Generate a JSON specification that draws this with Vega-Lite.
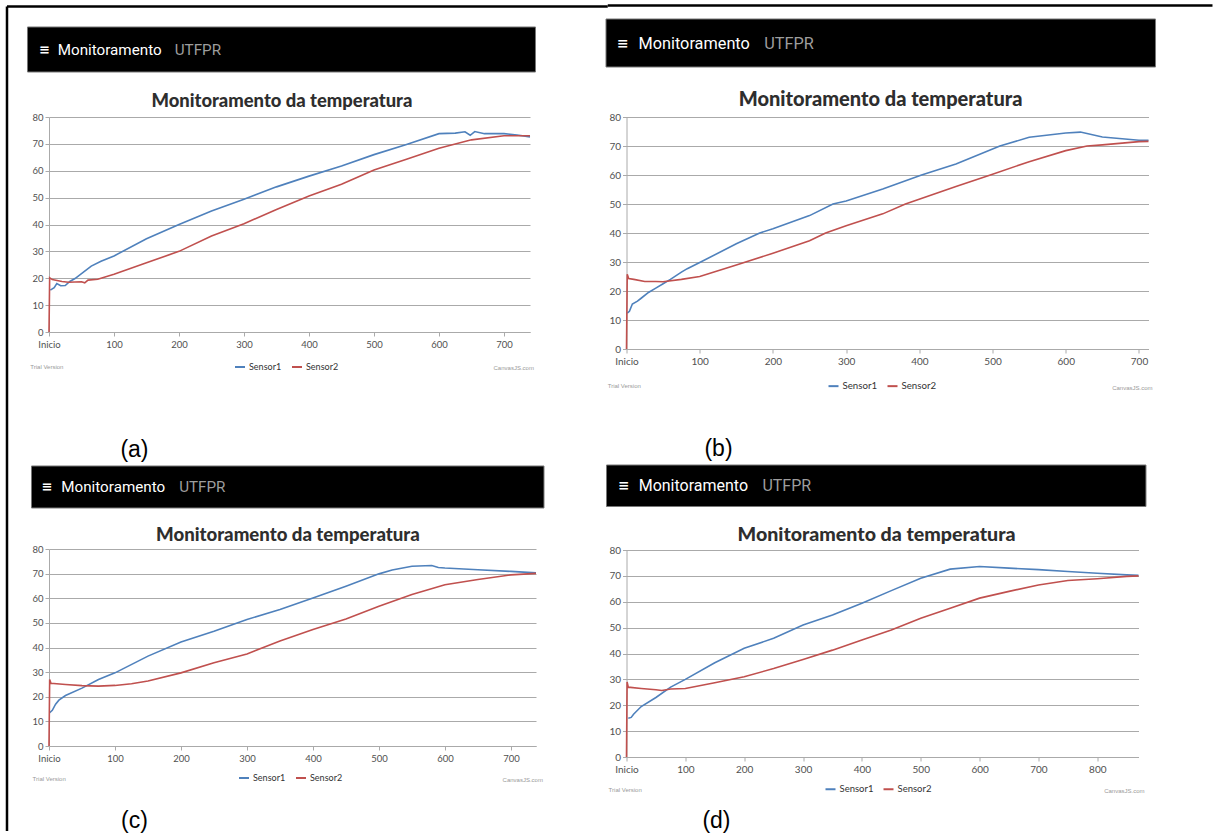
{
  "$schema": "https://vega.github.io/schema/vega-lite/v6.json",
  "autosize": {"type": "pad"},
  "padding": {"left": 5, "top": 4, "right": 0, "bottom": 0},
  "background": "white",
  "columns": 2,
  "spacing": {"row": -4, "column": -3.5},
  "bounds": "full",
  "align": "none",
  "resolve": {"scale": {"color": "independent"}, "legend": {"color": "independent"}},
  "config": {
    "view": {"stroke": null},
    "axis": {"labelFont": "Lato", "labelColor": "#505050", "domainColor": "#aaaaaa", "tickColor": "#aaaaaa", "gridColor": "#aaaaaa", "tickSize": 4, "labelOverlap": false},
    "legend": {"symbolType": "stroke", "symbolStrokeWidth": 2, "symbolSize": 100, "labelFont": "Lato", "labelFontSize": 9, "labelColor": "#333", "columnPadding": 6, "labelOffset": 3, "padding": 0}
  },
  "datasets": {
    "a": [
      {"t":2,"s":"Sensor1","v":15.6},{"t":8,"s":"Sensor1","v":16.5},{"t":12,"s":"Sensor1","v":18},{"t":18,"s":"Sensor1","v":17.2},{"t":25,"s":"Sensor1","v":17.3},{"t":32,"s":"Sensor1","v":18.8},{"t":40,"s":"Sensor1","v":19.9},{"t":50,"s":"Sensor1","v":21.7},{"t":65,"s":"Sensor1","v":24.5},{"t":80,"s":"Sensor1","v":26.3},{"t":100,"s":"Sensor1","v":28.3},{"t":150,"s":"Sensor1","v":34.7},{"t":200,"s":"Sensor1","v":40},{"t":250,"s":"Sensor1","v":45},{"t":300,"s":"Sensor1","v":49.4},{"t":350,"s":"Sensor1","v":54},{"t":400,"s":"Sensor1","v":58},{"t":450,"s":"Sensor1","v":61.8},{"t":500,"s":"Sensor1","v":66},{"t":550,"s":"Sensor1","v":69.8},{"t":600,"s":"Sensor1","v":73.8},{"t":625,"s":"Sensor1","v":74},{"t":640,"s":"Sensor1","v":74.5},{"t":648,"s":"Sensor1","v":73.2},{"t":655,"s":"Sensor1","v":74.6},{"t":670,"s":"Sensor1","v":73.8},{"t":700,"s":"Sensor1","v":73.8},{"t":720,"s":"Sensor1","v":73.3},{"t":740,"s":"Sensor1","v":72.6},
      {"t":0,"s":"Sensor2","v":0},{"t":1,"s":"Sensor2","v":20.2},{"t":5,"s":"Sensor2","v":19.5},{"t":20,"s":"Sensor2","v":18.8},{"t":30,"s":"Sensor2","v":18.5},{"t":50,"s":"Sensor2","v":18.7},{"t":55,"s":"Sensor2","v":18.3},{"t":60,"s":"Sensor2","v":19.3},{"t":75,"s":"Sensor2","v":19.6},{"t":100,"s":"Sensor2","v":21.5},{"t":150,"s":"Sensor2","v":25.8},{"t":200,"s":"Sensor2","v":30},{"t":250,"s":"Sensor2","v":35.7},{"t":300,"s":"Sensor2","v":40.3},{"t":350,"s":"Sensor2","v":45.6},{"t":400,"s":"Sensor2","v":50.6},{"t":450,"s":"Sensor2","v":55},{"t":500,"s":"Sensor2","v":60.3},{"t":550,"s":"Sensor2","v":64.3},{"t":600,"s":"Sensor2","v":68.4},{"t":650,"s":"Sensor2","v":71.5},{"t":700,"s":"Sensor2","v":73},{"t":740,"s":"Sensor2","v":73}
    ],
    "b": [
      {"t":1,"s":"Sensor1","v":12.4},{"t":4,"s":"Sensor1","v":13},{"t":8,"s":"Sensor1","v":15.5},{"t":15,"s":"Sensor1","v":16.5},{"t":20,"s":"Sensor1","v":17.5},{"t":30,"s":"Sensor1","v":19.5},{"t":40,"s":"Sensor1","v":21},{"t":50,"s":"Sensor1","v":22.5},{"t":60,"s":"Sensor1","v":24},{"t":75,"s":"Sensor1","v":26.5},{"t":83,"s":"Sensor1","v":27.7},{"t":100,"s":"Sensor1","v":29.8},{"t":150,"s":"Sensor1","v":36.3},{"t":182,"s":"Sensor1","v":40},{"t":200,"s":"Sensor1","v":41.5},{"t":250,"s":"Sensor1","v":46},{"t":282,"s":"Sensor1","v":50},{"t":300,"s":"Sensor1","v":51},{"t":350,"s":"Sensor1","v":55.2},{"t":403,"s":"Sensor1","v":60},{"t":450,"s":"Sensor1","v":63.8},{"t":510,"s":"Sensor1","v":70},{"t":550,"s":"Sensor1","v":73},{"t":600,"s":"Sensor1","v":74.5},{"t":620,"s":"Sensor1","v":74.8},{"t":650,"s":"Sensor1","v":73.1},{"t":700,"s":"Sensor1","v":72},{"t":713,"s":"Sensor1","v":72},
      {"t":0,"s":"Sensor2","v":0},{"t":1,"s":"Sensor2","v":25.8},{"t":3,"s":"Sensor2","v":24.3},{"t":10,"s":"Sensor2","v":24},{"t":25,"s":"Sensor2","v":23.3},{"t":40,"s":"Sensor2","v":23.3},{"t":50,"s":"Sensor2","v":23.2},{"t":75,"s":"Sensor2","v":24},{"t":100,"s":"Sensor2","v":25},{"t":150,"s":"Sensor2","v":29},{"t":200,"s":"Sensor2","v":33},{"t":250,"s":"Sensor2","v":37.3},{"t":272,"s":"Sensor2","v":40},{"t":300,"s":"Sensor2","v":42.5},{"t":350,"s":"Sensor2","v":46.6},{"t":381,"s":"Sensor2","v":50},{"t":450,"s":"Sensor2","v":56},{"t":497,"s":"Sensor2","v":60},{"t":550,"s":"Sensor2","v":64.6},{"t":600,"s":"Sensor2","v":68.4},{"t":629,"s":"Sensor2","v":70},{"t":650,"s":"Sensor2","v":70.4},{"t":700,"s":"Sensor2","v":71.5},{"t":713,"s":"Sensor2","v":71.6}
    ],
    "c": [
      {"t":1,"s":"Sensor1","v":13.5},{"t":5,"s":"Sensor1","v":14.5},{"t":10,"s":"Sensor1","v":17},{"t":15,"s":"Sensor1","v":18.6},{"t":25,"s":"Sensor1","v":20.5},{"t":50,"s":"Sensor1","v":23.5},{"t":75,"s":"Sensor1","v":27},{"t":100,"s":"Sensor1","v":29.7},{"t":150,"s":"Sensor1","v":36.5},{"t":200,"s":"Sensor1","v":42.2},{"t":250,"s":"Sensor1","v":46.6},{"t":300,"s":"Sensor1","v":51.4},{"t":350,"s":"Sensor1","v":55.4},{"t":400,"s":"Sensor1","v":60.1},{"t":450,"s":"Sensor1","v":64.9},{"t":500,"s":"Sensor1","v":69.9},{"t":520,"s":"Sensor1","v":71.5},{"t":550,"s":"Sensor1","v":73},{"t":580,"s":"Sensor1","v":73.3},{"t":590,"s":"Sensor1","v":72.5},{"t":600,"s":"Sensor1","v":72.3},{"t":650,"s":"Sensor1","v":71.6},{"t":700,"s":"Sensor1","v":70.9},{"t":738,"s":"Sensor1","v":70.3},
      {"t":0,"s":"Sensor2","v":0},{"t":1,"s":"Sensor2","v":27},{"t":3,"s":"Sensor2","v":25.5},{"t":25,"s":"Sensor2","v":25},{"t":50,"s":"Sensor2","v":24.5},{"t":75,"s":"Sensor2","v":24.3},{"t":100,"s":"Sensor2","v":24.6},{"t":125,"s":"Sensor2","v":25.3},{"t":150,"s":"Sensor2","v":26.4},{"t":200,"s":"Sensor2","v":29.7},{"t":250,"s":"Sensor2","v":33.8},{"t":300,"s":"Sensor2","v":37.4},{"t":350,"s":"Sensor2","v":42.6},{"t":400,"s":"Sensor2","v":47.3},{"t":450,"s":"Sensor2","v":51.6},{"t":500,"s":"Sensor2","v":56.8},{"t":550,"s":"Sensor2","v":61.5},{"t":600,"s":"Sensor2","v":65.5},{"t":650,"s":"Sensor2","v":67.6},{"t":700,"s":"Sensor2","v":69.5},{"t":738,"s":"Sensor2","v":70.1}
    ],
    "d": [
      {"t":3,"s":"Sensor1","v":15},{"t":8,"s":"Sensor1","v":15.3},{"t":12,"s":"Sensor1","v":16.5},{"t":25,"s":"Sensor1","v":19.5},{"t":50,"s":"Sensor1","v":23},{"t":75,"s":"Sensor1","v":27},{"t":100,"s":"Sensor1","v":30},{"t":150,"s":"Sensor1","v":36.4},{"t":200,"s":"Sensor1","v":42},{"t":250,"s":"Sensor1","v":45.9},{"t":300,"s":"Sensor1","v":51},{"t":350,"s":"Sensor1","v":54.9},{"t":400,"s":"Sensor1","v":59.4},{"t":450,"s":"Sensor1","v":64.3},{"t":500,"s":"Sensor1","v":69.1},{"t":550,"s":"Sensor1","v":72.6},{"t":600,"s":"Sensor1","v":73.6},{"t":650,"s":"Sensor1","v":73},{"t":700,"s":"Sensor1","v":72.4},{"t":750,"s":"Sensor1","v":71.7},{"t":800,"s":"Sensor1","v":71},{"t":850,"s":"Sensor1","v":70.4},{"t":870,"s":"Sensor1","v":70.2},
      {"t":0,"s":"Sensor2","v":0},{"t":1,"s":"Sensor2","v":29},{"t":3,"s":"Sensor2","v":27},{"t":25,"s":"Sensor2","v":26.5},{"t":50,"s":"Sensor2","v":26},{"t":60,"s":"Sensor2","v":25.7},{"t":75,"s":"Sensor2","v":26.3},{"t":100,"s":"Sensor2","v":26.5},{"t":150,"s":"Sensor2","v":28.7},{"t":200,"s":"Sensor2","v":31},{"t":250,"s":"Sensor2","v":34.2},{"t":300,"s":"Sensor2","v":37.7},{"t":350,"s":"Sensor2","v":41.3},{"t":400,"s":"Sensor2","v":45.2},{"t":450,"s":"Sensor2","v":49.1},{"t":500,"s":"Sensor2","v":53.6},{"t":550,"s":"Sensor2","v":57.5},{"t":600,"s":"Sensor2","v":61.4},{"t":650,"s":"Sensor2","v":64},{"t":700,"s":"Sensor2","v":66.5},{"t":750,"s":"Sensor2","v":68.2},{"t":800,"s":"Sensor2","v":68.9},{"t":850,"s":"Sensor2","v":69.8},{"t":870,"s":"Sensor2","v":70}
    ]
  },
  "concat": [
    {
      "width": 481, "height": 215,
      "resolve": {"axis": {"x": "independent", "y": "independent"}},
      "layer": [
        {"data": {"name": "a"}, "mark": {"type": "line", "strokeWidth": 1.6},
          "encoding": {
            "x": {"field": "t", "type": "quantitative", "scale": {"domain": [0, 740], "nice": false, "zero": false}, "axis": {"values": [0,100,200,300,400,500,600,700], "title": null, "grid": false, "labelExpr": "datum.value === 0 ? 'Inicio' : datum.label", "labelFontSize": 9.5, "labelPadding": 3, "labelFlush": false, "labelOverlap": false}},
            "y": {"field": "v", "type": "quantitative", "scale": {"domain": [0, 80], "nice": false}, "axis": {"values": [0,10,20,30,40,50,60,70,80], "title": null, "grid": true, "labelFontSize": 9.5, "labelPadding": 2, "labelOverlap": false}},
            "color": {"field": "s", "type": "nominal", "scale": {"domain": ["Sensor1", "Sensor2"], "range": ["#4F81BC", "#C0504E"]}, "legend": {"orient": "none", "legendX": 185, "legendY": 244, "direction": "horizontal", "title": null}}
          }},
        {"data": {"values": [{}]}, "mark": {"type": "rect", "fill": "black", "stroke": "#777", "strokeWidth": 1, "clip": false}, "encoding": {"x": {"datum": -33.08, "axis": null}, "x2": {"datum": 748.46}, "y": {"datum": 113.49, "axis": null}, "y2": {"datum": 96.74}}},
        {"data": {"values": [{}]}, "mark": {"type": "text", "text": "≡", "font": "DejaVu Sans", "fontWeight": "bold", "fontSize": 13, "color": "white", "align": "center", "baseline": "middle", "clip": false}, "encoding": {"x": {"datum": -6.6, "axis": null}, "y": {"datum": 105.1, "axis": null}}},
        {"data": {"values": [{}]}, "mark": {"type": "text", "text": "Monitoramento", "font": "Roboto", "fontSize": 15.2, "color": "white", "align": "left", "baseline": "middle", "clip": false}, "encoding": {"x": {"datum": 13.5, "axis": null}, "y": {"datum": 105.1, "axis": null}}},
        {"data": {"values": [{}]}, "mark": {"type": "text", "text": "UTFPR", "font": "Roboto", "fontSize": 15.2, "color": "#9d9d9d", "align": "left", "baseline": "middle", "clip": false}, "encoding": {"x": {"datum": 193.5, "axis": null}, "y": {"datum": 105.1, "axis": null}}},
        {"data": {"values": [{}]}, "mark": {"type": "text", "text": "Monitoramento da temperatura", "font": "Lato", "fontWeight": 900, "fontSize": 18.4, "color": "#2e2e2e", "align": "center", "baseline": "middle", "clip": false}, "encoding": {"x": {"datum": 358.3, "axis": null}, "y": {"datum": 86.1, "axis": null}}},
        {"data": {"values": [{}]}, "mark": {"type": "text", "text": "Trial Version", "font": "Liberation Sans", "fontSize": 6, "color": "#999", "align": "left", "baseline": "middle", "clip": false}, "encoding": {"x": {"datum": -28.8, "axis": null}, "y": {"datum": -12.9, "axis": null}}},
        {"data": {"values": [{}]}, "mark": {"type": "text", "text": "CanvasJS.com", "font": "Liberation Sans", "fontSize": 6, "color": "#999", "align": "right", "baseline": "middle", "clip": false}, "encoding": {"x": {"datum": 746, "axis": null}, "y": {"datum": -13.5, "axis": null}}},
        {"data": {"values": [{}]}, "mark": {"type": "text", "text": "(a)", "font": "Liberation Sans", "fontSize": 23, "color": "black", "align": "center", "baseline": "middle", "clip": false}, "encoding": {"x": {"datum": 131.5, "axis": null}, "y": {"datum": -43.9, "axis": null}}},
        {"data": {"values": [{}]}, "mark": {"type": "rule", "color": "black", "strokeWidth": 2.5, "clip": false}, "encoding": {"x": {"datum": -64.62, "axis": null}, "y": {"datum": 121.12, "axis": null}, "y2": {"datum": -49.86}}},
        {"data": {"values": [{}]}, "mark": {"type": "rule", "color": "black", "strokeWidth": 2.5, "clip": false}, "encoding": {"x": {"datum": -64.62, "axis": null}, "x2": {"datum": 859.6}, "y": {"datum": 121.12, "axis": null}}}
      ]
    },
    {
      "width": 522, "height": 232,
      "resolve": {"axis": {"x": "independent", "y": "independent"}},
      "layer": [
        {"data": {"name": "b"}, "mark": {"type": "line", "strokeWidth": 1.6},
          "encoding": {
            "x": {"field": "t", "type": "quantitative", "scale": {"domain": [0, 713], "nice": false, "zero": false}, "axis": {"values": [0,100,200,300,400,500,600,700], "title": null, "grid": false, "labelExpr": "datum.value === 0 ? 'Inicio' : datum.label", "labelFontSize": 10, "labelPadding": 3, "labelFlush": false, "labelOverlap": false}},
            "y": {"field": "v", "type": "quantitative", "scale": {"domain": [0, 80], "nice": false}, "axis": {"values": [0,10,20,30,40,50,60,70,80], "title": null, "grid": true, "labelFontSize": 10, "labelPadding": 2, "labelOverlap": false}},
            "color": {"field": "s", "type": "nominal", "scale": {"domain": ["Sensor1", "Sensor2"], "range": ["#4F81BC", "#C0504E"]}, "legend": {"orient": "none", "legendX": 201, "legendY": 263, "direction": "horizontal", "title": null, "labelFontSize": 9.7}}
          }},
        {"data": {"values": [{}]}, "mark": {"type": "rect", "fill": "black", "stroke": "#777", "strokeWidth": 1, "clip": false}, "encoding": {"x": {"datum": -28.0, "axis": null}, "x2": {"datum": 722.6}, "y": {"datum": 113.79, "axis": null}, "y2": {"datum": 97.24}}},
        {"data": {"values": [{}]}, "mark": {"type": "text", "text": "≡", "font": "DejaVu Sans", "fontWeight": "bold", "fontSize": 14, "color": "white", "align": "center", "baseline": "middle", "clip": false}, "encoding": {"x": {"datum": -4.9, "axis": null}, "y": {"datum": 105.3, "axis": null}}},
        {"data": {"values": [{}]}, "mark": {"type": "text", "text": "Monitoramento", "font": "Roboto", "fontSize": 16.3, "color": "white", "align": "left", "baseline": "middle", "clip": false}, "encoding": {"x": {"datum": 16.4, "axis": null}, "y": {"datum": 105.3, "axis": null}}},
        {"data": {"values": [{}]}, "mark": {"type": "text", "text": "UTFPR", "font": "Roboto", "fontSize": 16.3, "color": "#9d9d9d", "align": "left", "baseline": "middle", "clip": false}, "encoding": {"x": {"datum": 188, "axis": null}, "y": {"datum": 105.3, "axis": null}}},
        {"data": {"values": [{}]}, "mark": {"type": "text", "text": "Monitoramento da temperatura", "font": "Lato", "fontWeight": 900, "fontSize": 20, "color": "#2e2e2e", "align": "center", "baseline": "middle", "clip": false}, "encoding": {"x": {"datum": 347, "axis": null}, "y": {"datum": 85.9, "axis": null}}},
        {"data": {"values": [{}]}, "mark": {"type": "text", "text": "Trial Version", "font": "Liberation Sans", "fontSize": 6, "color": "#999", "align": "left", "baseline": "middle", "clip": false}, "encoding": {"x": {"datum": -25.7, "axis": null}, "y": {"datum": -12.9, "axis": null}}},
        {"data": {"values": [{}]}, "mark": {"type": "text", "text": "CanvasJS.com", "font": "Liberation Sans", "fontSize": 6, "color": "#999", "align": "right", "baseline": "middle", "clip": false}, "encoding": {"x": {"datum": 718.5, "axis": null}, "y": {"datum": -13.4, "axis": null}}},
        {"data": {"values": [{}]}, "mark": {"type": "text", "text": "(b)", "font": "Liberation Sans", "fontSize": 23, "color": "black", "align": "center", "baseline": "middle", "clip": false}, "encoding": {"x": {"datum": 125.7, "axis": null}, "y": {"datum": -34.5, "axis": null}}},
        {"data": {"values": [{}]}, "mark": {"type": "rule", "color": "black", "strokeWidth": 2.5, "clip": false}, "encoding": {"x": {"datum": -25.61, "axis": null}, "x2": {"datum": 800.4}, "y": {"datum": 118.45, "axis": null}}}
      ]
    },
    {
      "width": 487, "height": 197,
      "resolve": {"axis": {"x": "independent", "y": "independent"}},
      "layer": [
        {"data": {"name": "c"}, "mark": {"type": "line", "strokeWidth": 1.6},
          "encoding": {
            "x": {"field": "t", "type": "quantitative", "scale": {"domain": [0, 738], "nice": false, "zero": false}, "axis": {"values": [0,100,200,300,400,500,600,700], "title": null, "grid": false, "labelExpr": "datum.value === 0 ? 'Inicio' : datum.label", "labelFontSize": 9.5, "labelPadding": 3, "labelFlush": false, "labelOverlap": false}},
            "y": {"field": "v", "type": "quantitative", "scale": {"domain": [0, 80], "nice": false}, "axis": {"values": [0,10,20,30,40,50,60,70,80], "title": null, "grid": true, "labelFontSize": 9.5, "labelPadding": 2, "labelOverlap": false}},
            "color": {"field": "s", "type": "nominal", "scale": {"domain": ["Sensor1", "Sensor2"], "range": ["#4F81BC", "#C0504E"]}, "legend": {"orient": "none", "legendX": 189, "legendY": 223, "direction": "horizontal", "title": null}}
          }},
        {"data": {"values": [{}]}, "mark": {"type": "rect", "fill": "black", "stroke": "#777", "strokeWidth": 1, "clip": false}, "encoding": {"x": {"datum": -26.52, "axis": null}, "x2": {"datum": 750.1}, "y": {"datum": 113.71, "axis": null}, "y2": {"datum": 96.65}}},
        {"data": {"values": [{}]}, "mark": {"type": "text", "text": "≡", "font": "DejaVu Sans", "fontWeight": "bold", "fontSize": 13, "color": "white", "align": "center", "baseline": "middle", "clip": false}, "encoding": {"x": {"datum": -2.88, "axis": null}, "y": {"datum": 105.1, "axis": null}}},
        {"data": {"values": [{}]}, "mark": {"type": "text", "text": "Monitoramento", "font": "Roboto", "fontSize": 15.2, "color": "white", "align": "left", "baseline": "middle", "clip": false}, "encoding": {"x": {"datum": 18.64, "axis": null}, "y": {"datum": 105.1, "axis": null}}},
        {"data": {"values": [{}]}, "mark": {"type": "text", "text": "UTFPR", "font": "Roboto", "fontSize": 15.2, "color": "#9d9d9d", "align": "left", "baseline": "middle", "clip": false}, "encoding": {"x": {"datum": 197.2, "axis": null}, "y": {"datum": 105.1, "axis": null}}},
        {"data": {"values": [{}]}, "mark": {"type": "text", "text": "Monitoramento da temperatura", "font": "Lato", "fontWeight": 900, "fontSize": 18.6, "color": "#2e2e2e", "align": "center", "baseline": "middle", "clip": false}, "encoding": {"x": {"datum": 362.0, "axis": null}, "y": {"datum": 85.8, "axis": null}}},
        {"data": {"values": [{}]}, "mark": {"type": "text", "text": "Trial Version", "font": "Liberation Sans", "fontSize": 6, "color": "#999", "align": "left", "baseline": "middle", "clip": false}, "encoding": {"x": {"datum": -24.85, "axis": null}, "y": {"datum": -13.4, "axis": null}}},
        {"data": {"values": [{}]}, "mark": {"type": "text", "text": "CanvasJS.com", "font": "Liberation Sans", "fontSize": 6, "color": "#999", "align": "right", "baseline": "middle", "clip": false}, "encoding": {"x": {"datum": 748.5, "axis": null}, "y": {"datum": -13.8, "axis": null}}},
        {"data": {"values": [{}]}, "mark": {"type": "text", "text": "(c)", "font": "Liberation Sans", "fontSize": 23, "color": "black", "align": "center", "baseline": "middle", "clip": false}, "encoding": {"x": {"datum": 129.6, "axis": null}, "y": {"datum": -30.5, "axis": null}}},
        {"data": {"values": [{}]}, "mark": {"type": "rule", "color": "black", "strokeWidth": 2.5, "clip": false}, "encoding": {"x": {"datum": -63.65, "axis": null}, "y": {"datum": 113.71, "axis": null}, "y2": {"datum": -34.52}}}
      ]
    },
    {
      "width": 512, "height": 207,
      "resolve": {"axis": {"x": "independent", "y": "independent"}},
      "layer": [
        {"data": {"name": "d"}, "mark": {"type": "line", "strokeWidth": 1.6},
          "encoding": {
            "x": {"field": "t", "type": "quantitative", "scale": {"domain": [0, 870], "nice": false, "zero": false}, "axis": {"values": [0,100,200,300,400,500,600,700,800], "title": null, "grid": false, "labelExpr": "datum.value === 0 ? 'Inicio' : datum.label", "labelFontSize": 10, "labelPadding": 3, "labelFlush": false, "labelOverlap": false}},
            "y": {"field": "v", "type": "quantitative", "scale": {"domain": [0, 80], "nice": false}, "axis": {"values": [0,10,20,30,40,50,60,70,80], "title": null, "grid": true, "labelFontSize": 10, "labelPadding": 2, "labelOverlap": false}},
            "color": {"field": "s", "type": "nominal", "scale": {"domain": ["Sensor1", "Sensor2"], "range": ["#4F81BC", "#C0504E"]}, "legend": {"orient": "none", "legendX": 198, "legendY": 233, "direction": "horizontal", "title": null, "labelFontSize": 9.5}}
          }},
        {"data": {"values": [{}]}, "mark": {"type": "rect", "fill": "black", "stroke": "#777", "strokeWidth": 1, "clip": false}, "encoding": {"x": {"datum": -33.98, "axis": null}, "x2": {"datum": 882.7}, "y": {"datum": 112.85, "axis": null}, "y2": {"datum": 96.81}}},
        {"data": {"values": [{}]}, "mark": {"type": "text", "text": "≡", "font": "DejaVu Sans", "fontWeight": "bold", "fontSize": 13.5, "color": "white", "align": "center", "baseline": "middle", "clip": false}, "encoding": {"x": {"datum": -4.9, "axis": null}, "y": {"datum": 104.7, "axis": null}}},
        {"data": {"values": [{}]}, "mark": {"type": "text", "text": "Monitoramento", "font": "Roboto", "fontSize": 16, "color": "white", "align": "left", "baseline": "middle", "clip": false}, "encoding": {"x": {"datum": 20.7, "axis": null}, "y": {"datum": 104.7, "axis": null}}},
        {"data": {"values": [{}]}, "mark": {"type": "text", "text": "UTFPR", "font": "Roboto", "fontSize": 16, "color": "#9d9d9d", "align": "left", "baseline": "middle", "clip": false}, "encoding": {"x": {"datum": 230.9, "axis": null}, "y": {"datum": 104.7, "axis": null}}},
        {"data": {"values": [{}]}, "mark": {"type": "text", "text": "Monitoramento da temperatura", "font": "Lato", "fontWeight": 900, "fontSize": 19.6, "color": "#2e2e2e", "align": "center", "baseline": "middle", "clip": false}, "encoding": {"x": {"datum": 424.8, "axis": null}, "y": {"datum": 85.8, "axis": null}}},
        {"data": {"values": [{}]}, "mark": {"type": "text", "text": "Trial Version", "font": "Liberation Sans", "fontSize": 6, "color": "#999", "align": "left", "baseline": "middle", "clip": false}, "encoding": {"x": {"datum": -30.4, "axis": null}, "y": {"datum": -12.75, "axis": null}}},
        {"data": {"values": [{}]}, "mark": {"type": "text", "text": "CanvasJS.com", "font": "Liberation Sans", "fontSize": 6, "color": "#999", "align": "right", "baseline": "middle", "clip": false}, "encoding": {"x": {"datum": 880.2, "axis": null}, "y": {"datum": -13.1, "axis": null}}},
        {"data": {"values": [{}]}, "mark": {"type": "text", "text": "(d)", "font": "Liberation Sans", "fontSize": 23, "color": "black", "align": "center", "baseline": "middle", "clip": false}, "encoding": {"x": {"datum": 152.9, "axis": null}, "y": {"datum": -24.7, "axis": null}}}
      ]
    }
  ]
}
